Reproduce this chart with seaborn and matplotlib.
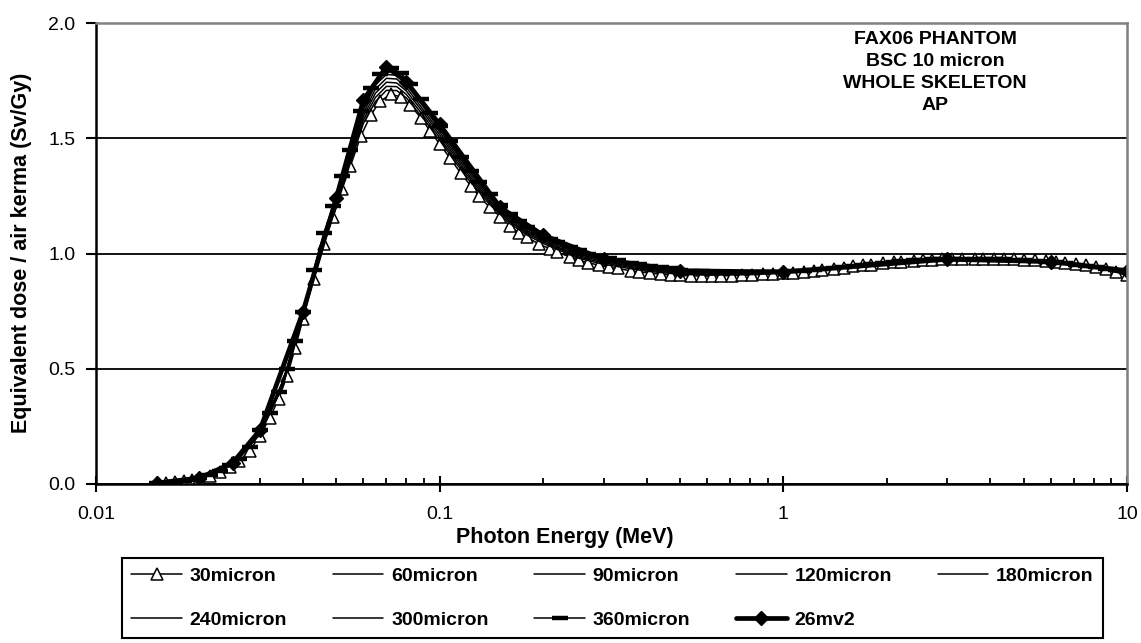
import matplotlib
matplotlib.use("Agg")
import matplotlib.pyplot as plt
import numpy as np
import seaborn as sns
from matplotlib.ticker import FixedLocator, NullFormatter

# ---- data -------------------------------------------------------------
# photon energies (MeV) for the densely sampled series
energy_fine = [0.015, 0.016, 0.017, 0.018, 0.019, 0.020, 0.0215, 0.023, 0.0245, 0.026,
               0.028, 0.030, 0.032, 0.034, 0.036, 0.038, 0.040, 0.043, 0.046, 0.049,
               0.052, 0.055, 0.059, 0.063, 0.067, 0.072, 0.077, 0.082, 0.088, 0.094,
               0.100, 0.107, 0.115, 0.123, 0.130, 0.140, 0.150, 0.160, 0.170, 0.180,
               0.195, 0.210, 0.220, 0.240, 0.255, 0.270, 0.290, 0.310, 0.330, 0.360,
               0.380, 0.410, 0.440, 0.470, 0.500, 0.540, 0.580, 0.620, 0.660, 0.710,
               0.760, 0.810, 0.870, 0.930, 1.00, 1.07, 1.15, 1.23, 1.30, 1.40,
               1.50, 1.60, 1.70, 1.80, 1.95, 2.10, 2.20, 2.40, 2.55, 2.70,
               2.90, 3.10, 3.30, 3.60, 3.80, 4.10, 4.40, 4.70, 5.00, 5.40,
               5.80, 6.20, 6.60, 7.10, 7.60, 8.10, 8.70, 9.30, 10.0]

dose_30micron = [0.003, 0.005, 0.007, 0.011, 0.016, 0.022, 0.034, 0.050, 0.072, 0.098,
                 0.145, 0.210, 0.285, 0.370, 0.470, 0.590, 0.715, 0.890, 1.040, 1.160,
                 1.280, 1.380, 1.510, 1.600, 1.660, 1.690, 1.680, 1.645, 1.590, 1.530,
                 1.475, 1.415, 1.350, 1.295, 1.250, 1.200, 1.160, 1.120, 1.090, 1.070,
                 1.040, 1.020, 1.005, 0.985, 0.970, 0.960, 0.950, 0.940, 0.935, 0.925,
                 0.920, 0.915, 0.910, 0.907, 0.905, 0.903, 0.902, 0.902, 0.903, 0.904,
                 0.905, 0.907, 0.909, 0.911, 0.914, 0.917, 0.921, 0.925, 0.929, 0.934,
                 0.939, 0.944, 0.948, 0.952, 0.957, 0.961, 0.964, 0.968, 0.970, 0.972,
                 0.974, 0.975, 0.976, 0.977, 0.977, 0.977, 0.976, 0.975, 0.973, 0.970,
                 0.967, 0.963, 0.959, 0.954, 0.948, 0.942, 0.932, 0.918, 0.905]

dose_360micron = [0.004, 0.006, 0.009, 0.013, 0.019, 0.026, 0.040, 0.058, 0.082, 0.110,
                  0.160, 0.234, 0.310, 0.400, 0.500, 0.620, 0.746, 0.930, 1.090, 1.205,
                  1.335, 1.450, 1.620, 1.720, 1.780, 1.805, 1.785, 1.735, 1.670, 1.610,
                  1.555, 1.490, 1.420, 1.360, 1.310, 1.260, 1.210, 1.170, 1.140, 1.115,
                  1.090, 1.065, 1.050, 1.030, 1.015, 1.000, 0.990, 0.980, 0.970, 0.960,
                  0.955, 0.945, 0.940, 0.935, 0.930, 0.925, 0.922, 0.920, 0.918, 0.917,
                  0.917, 0.917, 0.918, 0.919, 0.920, 0.922, 0.925, 0.928, 0.932, 0.937,
                  0.942, 0.947, 0.951, 0.955, 0.960, 0.964, 0.967, 0.970, 0.972, 0.974,
                  0.975, 0.976, 0.977, 0.977, 0.977, 0.976, 0.975, 0.973, 0.971, 0.968,
                  0.965, 0.961, 0.957, 0.952, 0.946, 0.940, 0.934, 0.928, 0.922]

# photon energies (MeV) for the plain-line series
energy_mid = [0.015, 0.02, 0.025, 0.03, 0.035, 0.04, 0.045, 0.05, 0.055, 0.06,
              0.065, 0.07, 0.075, 0.08, 0.09, 0.1, 0.11, 0.12, 0.14, 0.16,
              0.18, 0.2, 0.25, 0.3, 0.4, 0.5, 0.6, 0.8, 1.0, 1.5,
              2.0, 3.0, 4.0, 5.0, 6.0, 8.0, 10.0]

dose_60micron = [0.003, 0.023, 0.082, 0.215, 0.426, 0.721, 1.004, 1.200, 1.394, 1.565,
                 1.659, 1.708, 1.707, 1.675, 1.582, 1.491, 1.405, 1.329, 1.212, 1.130,
                 1.079, 1.044, 0.982, 0.953, 0.923, 0.910, 0.906, 0.909, 0.915, 0.940,
                 0.959, 0.975, 0.977, 0.973, 0.961, 0.940, 0.908]
dose_90micron = [0.003, 0.023, 0.084, 0.218, 0.430, 0.726, 1.011, 1.207, 1.404, 1.580,
                 1.677, 1.725, 1.724, 1.690, 1.595, 1.503, 1.416, 1.340, 1.221, 1.138,
                 1.086, 1.051, 0.987, 0.959, 0.928, 0.914, 0.909, 0.910, 0.916, 0.940,
                 0.959, 0.975, 0.977, 0.972, 0.962, 0.940, 0.911]
dose_120micron = [0.004, 0.024, 0.085, 0.222, 0.435, 0.730, 1.017, 1.215, 1.415, 1.595,
                  1.695, 1.743, 1.740, 1.705, 1.608, 1.515, 1.428, 1.350, 1.230, 1.145,
                  1.092, 1.057, 0.992, 0.965, 0.932, 0.917, 0.911, 0.912, 0.917, 0.940,
                  0.959, 0.975, 0.977, 0.972, 0.962, 0.940, 0.913]
dose_180micron = [0.004, 0.025, 0.087, 0.226, 0.440, 0.735, 1.024, 1.222, 1.425, 1.610,
                  1.713, 1.760, 1.757, 1.720, 1.620, 1.527, 1.439, 1.361, 1.239, 1.153,
                  1.099, 1.064, 0.998, 0.971, 0.937, 0.921, 0.914, 0.913, 0.918, 0.941,
                  0.960, 0.976, 0.976, 0.972, 0.962, 0.941, 0.916]
dose_240micron = [0.004, 0.025, 0.088, 0.229, 0.444, 0.740, 1.031, 1.230, 1.436, 1.625,
                  1.731, 1.777, 1.773, 1.735, 1.633, 1.539, 1.450, 1.371, 1.248, 1.160,
                  1.106, 1.071, 1.003, 0.977, 0.941, 0.925, 0.917, 0.915, 0.919, 0.941,
                  0.960, 0.976, 0.976, 0.971, 0.963, 0.941, 0.919]
dose_300micron = [0.004, 0.026, 0.089, 0.232, 0.447, 0.743, 1.035, 1.235, 1.443, 1.635,
                  1.743, 1.789, 1.784, 1.745, 1.642, 1.547, 1.458, 1.378, 1.254, 1.165,
                  1.110, 1.075, 1.007, 0.981, 0.944, 0.927, 0.919, 0.916, 0.919, 0.942,
                  0.960, 0.976, 0.976, 0.971, 0.963, 0.941, 0.920]

# reference curve
energy_26mv2 = [0.015, 0.02, 0.025, 0.03, 0.04, 0.05, 0.06, 0.07, 0.08, 0.1,
                0.15, 0.2, 0.3, 0.5, 1.0, 3.0, 6.0, 10.0]
dose_26mv2 = [0.004, 0.026, 0.092, 0.234, 0.746, 1.240, 1.666, 1.810, 1.745, 1.560,
              1.200, 1.080, 0.975, 0.925, 0.920, 0.975, 0.965, 0.925]

series_labels = ["30micron", "60micron", "90micron", "120micron", "180micron",
                 "240micron", "300micron", "360micron", "26mv2"]

x_tick_values = [0.01, 0.1, 1, 10]
x_tick_labels = ["0.01", "0.1", "1", "10"]
y_tick_values = [0.0, 0.5, 1.0, 1.5, 2.0]
y_tick_labels = ["0.0", "0.5", "1.0", "1.5", "2.0"]

x_label = "Photon Energy (MeV)"
y_label = "Equivalent dose / air kerma (Sv/Gy)"
info_lines = ["FAX06 PHANTOM", "BSC 10 micron", "WHOLE SKELETON", "AP"]

# ---- figure -----------------------------------------------------------
sns.set_theme(style="white")
plt.rcParams["font.family"] = ["Liberation Sans", "DejaVu Sans"]

W, H = 1141, 643
fig = plt.figure(figsize=(W / 100, H / 100), dpi=100)
fig.patch.set_facecolor("white")
# plot area in pixel coordinates: left 96, right 1127, top 23, bottom 484
ax = fig.add_axes([96 / W, 1 - 484 / H, (1127 - 96) / W, (484 - 23) / H])
ax.set_facecolor("white")

thin = dict(color="black", linewidth=1.1, estimator=None, legend=False, ax=ax)

sns.lineplot(x=energy_fine, y=dose_30micron, marker="^", markersize=9,
             markerfacecolor="white", markeredgecolor="black",
             markeredgewidth=1.1, **thin)
for vals in (dose_60micron, dose_90micron, dose_120micron, dose_180micron,
             dose_240micron, dose_300micron):
    sns.lineplot(x=energy_mid, y=vals, **thin)
sns.lineplot(x=energy_fine, y=dose_360micron, marker="_", markersize=12,
             markeredgecolor="black", markeredgewidth=3.2, **thin)
sns.lineplot(x=energy_26mv2, y=dose_26mv2, color="black", linewidth=3.4,
             marker="D", markersize=7.5, markerfacecolor="black",
             markeredgecolor="black", markeredgewidth=1.0,
             estimator=None, legend=False, ax=ax)

# ---- axes -------------------------------------------------------------
ax.set_xscale("log")
ax.set_xlim(0.01, 10)
ax.set_ylim(0, 2.0)

ax.xaxis.set_major_locator(FixedLocator(x_tick_values))
ax.set_xticklabels(x_tick_labels)
ax.xaxis.set_minor_locator(FixedLocator(
    [m * d for d in (0.01, 0.1, 1) for m in range(2, 10)]))
ax.xaxis.set_minor_formatter(NullFormatter())
ax.set_yticks(y_tick_values)
ax.set_yticklabels(y_tick_labels)

ax.tick_params(axis="x", which="major", bottom=True, direction="inout",
               length=12, width=1.5, color="black", labelsize=14,
               labelcolor="black", pad=10)
ax.tick_params(axis="x", which="minor", bottom=True, direction="in",
               length=4, width=1.3, color="black")
ax.tick_params(axis="y", which="major", left=True, direction="out",
               length=7, width=1.5, color="black", labelsize=14,
               labelcolor="black", pad=8)

ax.yaxis.grid(True, color="black", linewidth=1.3)
ax.xaxis.grid(False)
ax.set_axisbelow(True)

for side in ("left", "bottom"):
    ax.spines[side].set_color("black")
    ax.spines[side].set_linewidth(1.8)
for side in ("top", "right"):
    ax.spines[side].set_color("#808080")
    ax.spines[side].set_linewidth(1.8)

ax.set_xlabel("")
ax.set_ylabel("")
fig.text(565 / W, 1 - 537 / H, x_label, ha="center", va="center",
         fontsize=15.5, fontweight="bold", color="black")
fig.text(22 / W, 1 - 253 / H, y_label, ha="center", va="center",
         rotation=90, fontsize=15.5, fontweight="bold", color="black")

ax.text(935 / W, 1 - 31 / H, "\n".join(info_lines), transform=fig.transFigure,
        ha="center", va="top", fontsize=14, fontweight="bold",
        linespacing=1.38, color="black")

# ---- legend -----------------------------------------------------------
# legend is filled column by column; order the entries so rows read 30..180, 240..26mv2
lines = ax.get_lines()[:len(series_labels)]
order = [0, 5, 1, 6, 2, 7, 3, 8, 4]
leg = ax.legend([lines[i] for i in order], [series_labels[i] for i in order],
                loc="center", ncol=5, mode="expand",
                bbox_to_anchor=(122 / W, 1 - 640 / H, (1103 - 122) / W, (640 - 556) / H),
                bbox_transform=fig.transFigure, frameon=True, fancybox=False,
                framealpha=1, edgecolor="black", borderaxespad=0,
                handlelength=2.6, handletextpad=0.4, columnspacing=0.8,
                labelspacing=1.37, borderpad=0.48,
                prop={"weight": "bold", "size": 14})
leg.get_frame().set_linewidth(1.5)
for t in leg.get_texts():
    t.set_color("black")

fig.savefig("out.png", dpi=100, facecolor="white")
